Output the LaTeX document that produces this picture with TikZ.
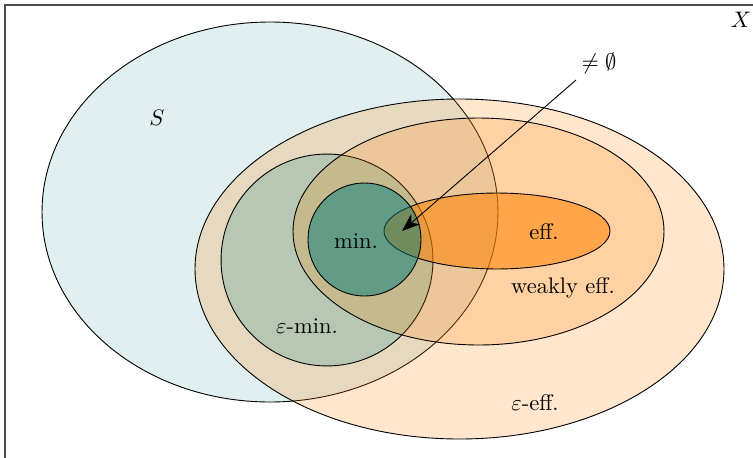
\documentclass[tikz,border=0pt]{standalone}
\usetikzlibrary{shapes.geometric,arrows.meta}
\begin{document}
\begin{tikzpicture}[x=0.445pt,y=-0.445pt,
  set/.style={ellipse, draw=black, line width=0.4pt, inner sep=0pt},
  lbl/.style={inner sep=1pt}]
\useasboundingbox (0,0) rectangle (753,457);
\clip (0,0) rectangle (753,457);
\draw[black!70, line width=0.6pt] (5,5) rectangle (800,500);
\node[set, fill=teal, fill opacity=0.12, minimum width=202.9pt, minimum height=169.1pt] (S) at (270,212) {};
\node[set, fill=orange, fill opacity=0.2, minimum width=235.4pt, minimum height=151.3pt] (epseff) at (459.5,269) {};
\node[set, fill=teal, fill opacity=0.2, minimum width=94.3pt, minimum height=94.3pt] (epsmin) at (327,260) {};
\node[set, fill=orange, fill opacity=0.2, minimum width=165.1pt, minimum height=101pt] (weff) at (478.5,231.5) {};
\node[set, fill=orange, fill opacity=0.55, minimum width=100.6pt, minimum height=33.8pt] (eff) at (497,231) {};
\node[set, fill=teal, fill opacity=0.5, minimum width=50.3pt, minimum height=50.3pt] (min) at (364.5,239.5) {};
\node[lbl] (lX) at (741,20) {$X$};
\node[lbl] (lS) at (157,118) {$S$};
\node[lbl] (lmin) at (356,241) {min.};
\node[lbl] (leff) at (544,232) {eff.};
\node[lbl] (lweff) at (563,288) {weakly eff.};
\node[lbl] (lepsmin) at (307,326) {$\varepsilon$-min.};
\node[lbl] (lepseff) at (535,403) {$\varepsilon$-eff.};
\node[lbl] (lne) at (599,63) {$\neq\emptyset$};
\coordinate (start) at (576,80);
\coordinate (target) at (402,231);
\draw[line width=0.4pt, -{Stealth[length=8pt,width=6pt,inset=2.4pt]}] (start) -- (target);
\end{tikzpicture}
\end{document}
